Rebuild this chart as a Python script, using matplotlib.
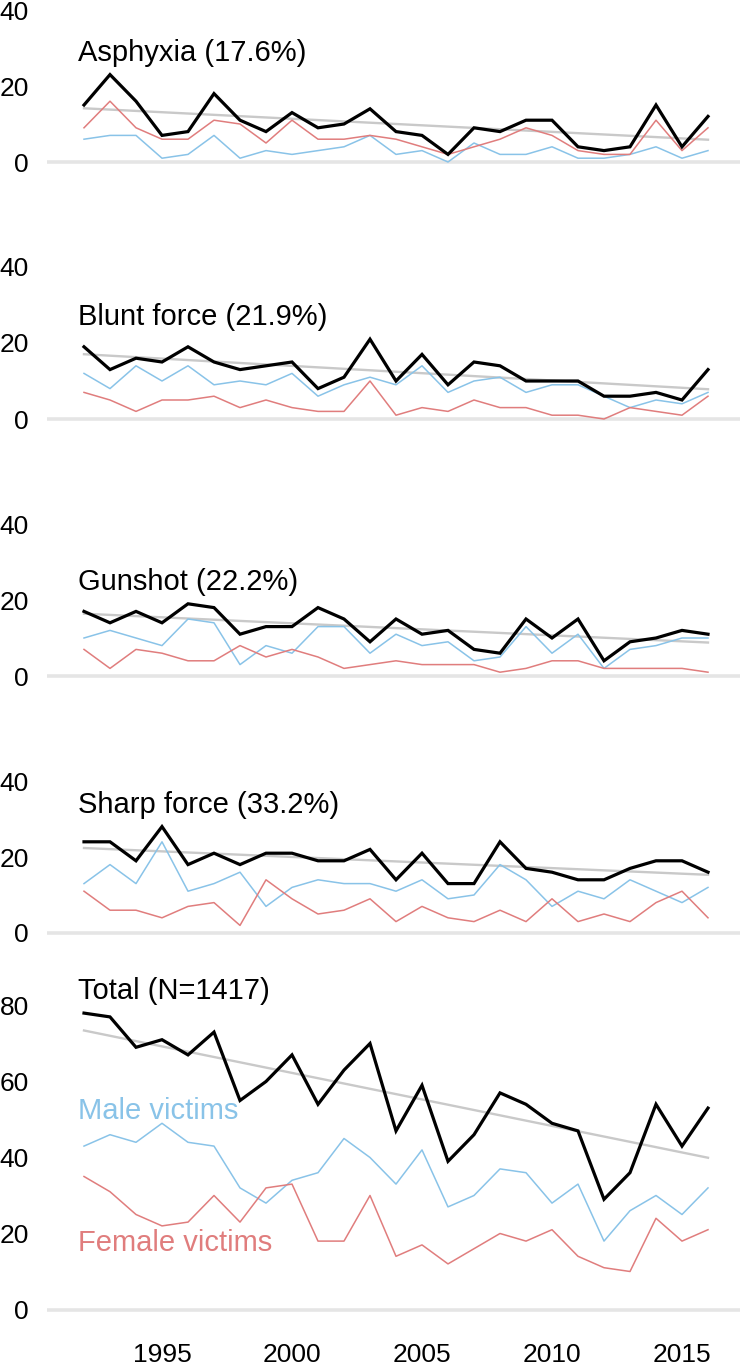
import numpy as np
import matplotlib
matplotlib.use("Agg")
import matplotlib.pyplot as plt

plt.rcParams['font.family'] = ['Liberation Sans', 'DejaVu Sans']

years = list(range(1992, 2017))

titles = ["Asphyxia (17.6%)", "Blunt force (21.9%)", "Gunshot (22.2%)",
          "Sharp force (33.2%)", "Total (N=1417)"]

asphyxia_total = [15, 23, 16, 7, 8, 18, 11, 8, 13, 9, 10, 14, 8, 7, 2, 9, 8, 11, 11, 4, 3, 4, 15, 4, 12]
asphyxia_male = [6, 7, 7, 1, 2, 7, 1, 3, 2, 3, 4, 7, 2, 3, 0, 5, 2, 2, 4, 1, 1, 2, 4, 1, 3]
asphyxia_female = [9, 16, 9, 6, 6, 11, 10, 5, 11, 6, 6, 7, 6, 4, 2, 4, 6, 9, 7, 3, 2, 2, 11, 3, 9]

blunt_total = [19, 13, 16, 15, 19, 15, 13, 14, 15, 8, 11, 21, 10, 17, 9, 15, 14, 10, 10, 10, 6, 6, 7, 5, 13]
blunt_male = [12, 8, 14, 10, 14, 9, 10, 9, 12, 6, 9, 11, 9, 14, 7, 10, 11, 7, 9, 9, 6, 3, 5, 4, 7]
blunt_female = [7, 5, 2, 5, 5, 6, 3, 5, 3, 2, 2, 10, 1, 3, 2, 5, 3, 3, 1, 1, 0, 3, 2, 1, 6]

gunshot_total = [17, 14, 17, 14, 19, 18, 11, 13, 13, 18, 15, 9, 15, 11, 12, 7, 6, 15, 10, 15, 4, 9, 10, 12, 11]
gunshot_male = [10, 12, 10, 8, 15, 14, 3, 8, 6, 13, 13, 6, 11, 8, 9, 4, 5, 13, 6, 11, 2, 7, 8, 10, 10]
gunshot_female = [7, 2, 7, 6, 4, 4, 8, 5, 7, 5, 2, 3, 4, 3, 3, 3, 1, 2, 4, 4, 2, 2, 2, 2, 1]

sharp_total = [24, 24, 19, 28, 18, 21, 18, 21, 21, 19, 19, 22, 14, 21, 13, 13, 24, 17, 16, 14, 14, 17, 19, 19, 16]
sharp_male = [13, 18, 13, 24, 11, 13, 16, 7, 12, 14, 13, 13, 11, 14, 9, 10, 18, 14, 7, 11, 9, 14, 11, 8, 12]
sharp_female = [11, 6, 6, 4, 7, 8, 2, 14, 9, 5, 6, 9, 3, 7, 4, 3, 6, 3, 9, 3, 5, 3, 8, 11, 4]

all_total = [78, 77, 69, 71, 67, 73, 55, 60, 67, 54, 63, 70, 47, 59, 39, 46, 57, 54, 49, 47, 29, 36, 54, 43, 53]
all_male = [43, 46, 44, 49, 44, 43, 32, 28, 34, 36, 45, 40, 33, 42, 27, 30, 37, 36, 28, 33, 18, 26, 30, 25, 32]
all_female = [35, 31, 25, 22, 23, 30, 23, 32, 33, 18, 18, 30, 14, 17, 12, 16, 20, 18, 21, 14, 11, 10, 24, 18, 21]

y_ticks = [[0, 20, 40]] * 4 + [[0, 20, 40, 60, 80]]
x_ticks = [1995, 2000, 2005, 2010, 2015]

panels = [
    (asphyxia_total, asphyxia_male, asphyxia_female),
    (blunt_total, blunt_male, blunt_female),
    (gunshot_total, gunshot_male, gunshot_female),
    (sharp_total, sharp_male, sharp_female),
    (all_total, all_male, all_female),
]

BLUE = '#89c3e8'
RED = '#e07d7d'
W, H = 742, 1365
fig = plt.figure(figsize=(W / 100, H / 100), dpi=100)

zero_px = [162, 419, 676, 933, 1309.5]
scale = 3.8  # px per unit
ylims = [(-3, 42.5)] * 4 + [(-3, 86)]
x_left_px, x_right_px = 47, 740
xlim = (1992 - (84 - x_left_px) / 26, 2016 + (x_right_px - 708) / 26)

for i, (tot, male, fem) in enumerate(panels):
    lo, hi = ylims[i]
    top_px = zero_px[i] - hi * scale
    bot_px = zero_px[i] - lo * scale
    ax = fig.add_axes([x_left_px / W, 1 - bot_px / H, (x_right_px - x_left_px) / W, (bot_px - top_px) / H])
    ax.set_xlim(*xlim)
    ax.set_ylim(lo, hi)
    for s in ax.spines.values():
        s.set_visible(False)
    ax.patch.set_alpha(0)
    ax.axhline(0, color='#e5e5e5', lw=2.6, zorder=0)
    yr = np.array(years)
    coef = np.polyfit(yr, np.array(tot), 1)
    ax.plot(yr, np.polyval(coef, yr), color='#c9c9c9', lw=1.7, zorder=1)
    ax.plot(yr, male, color=BLUE, lw=1.1, zorder=2)
    ax.plot(yr, fem, color=RED, lw=1.1, zorder=2)
    ax.plot(yr, tot, color='black', lw=2.3, zorder=3, solid_joinstyle='miter')
    ax.set_yticks(y_ticks[i])
    ax.set_yticklabels([str(v) for v in y_ticks[i]], fontsize=19)
    ax.tick_params(axis='y', length=0, pad=13)
    if i == 4:
        ax.set_xticks(x_ticks)
        ax.set_xticklabels([str(v) for v in x_ticks], fontsize=19)
        ax.tick_params(axis='x', length=0, pad=16)
        ax.text(1991.75, 50.1, "Male victims", color=BLUE, fontsize=21, ha='left', va='baseline')
        ax.text(1991.75, 15.5, "Female victims", color=RED, fontsize=21, ha='left', va='baseline')
    else:
        ax.set_xticks([])
    ax.text(1991.75, max(tot) + 3.7, titles[i], color='black', fontsize=21, ha='left', va='baseline')

fig.savefig('out.png', dpi=100)
